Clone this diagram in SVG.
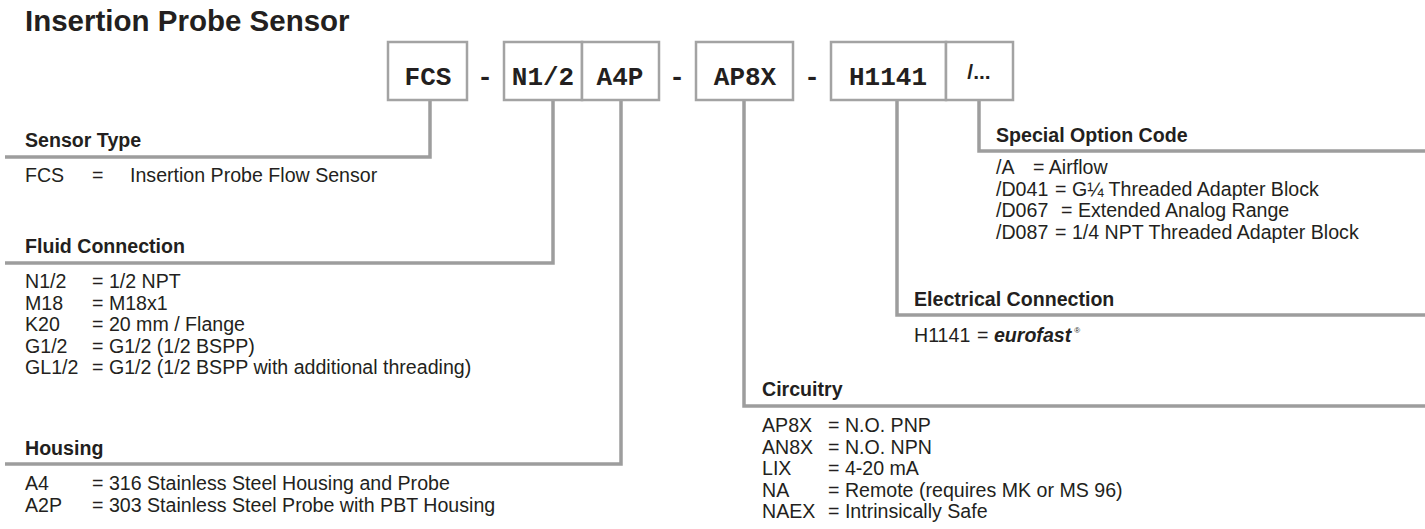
<svg xmlns="http://www.w3.org/2000/svg" width="1425" height="529" viewBox="0 0 1425 529">
<style>
text{fill:#231f20;font-family:"Liberation Sans",Arial,sans-serif}
.title{font-size:29.5px;font-weight:bold}
.box{fill:#fff;stroke:#a3a3a3;stroke-width:2.5}
.code{font-family:"Liberation Mono","Courier New",monospace;font-weight:bold;font-size:26px;text-anchor:middle}
.opt{font-weight:bold;font-size:21px;text-anchor:middle}
.conn{fill:none;stroke:#9d9d9d;stroke-width:3.5}
.h{font-size:19.6px;font-weight:bold}
.t{font-size:19.6px}
.bi{font-weight:bold;font-style:italic}
.reg{font-size:8px}
</style>
<rect width="1425" height="529" fill="#fff"/>
<text class="title" x="25" y="31">Insertion Probe Sensor</text>

<g id="connectors">
<path class="conn" d="M430 100 V157 H5"/>
<path class="conn" d="M553 100 V263 H5"/>
<path class="conn" d="M621 100 V464 H5"/>
<path class="conn" d="M744 100 V406 H1425"/>
<path class="conn" d="M897 100 V315 H1425"/>
<path class="conn" d="M979 100 V151 H1425"/>
</g>

<g id="code-fcs"><rect class="box" x="388" y="42" width="79" height="58"/><text class="code" x="428" y="85">FCS</text></g>
<text class="code" x="485" y="85">-</text>
<g id="code-n12"><rect class="box" x="504" y="42" width="78" height="58"/><text class="code" x="543" y="85">N1/2</text></g>
<g id="code-a4p"><rect class="box" x="582" y="42" width="77" height="58"/><text class="code" x="620" y="85">A4P</text></g>
<text class="code" x="677" y="85">-</text>
<g id="code-ap8x"><rect class="box" x="696" y="42" width="97" height="58"/><text class="code" x="745" y="85">AP8X</text></g>
<text class="code" x="812" y="85">-</text>
<g id="code-h1141"><rect class="box" x="831" y="42" width="115" height="58"/><text class="code" x="888" y="85">H1141</text></g>
<g id="code-opt"><rect class="box" x="946" y="42" width="67" height="58"/><text class="opt" x="979" y="79">/...</text></g>

<g id="sensor-type">
<text class="h" x="25" y="147">Sensor Type</text>
<text class="t" y="182"><tspan x="25">FCS</tspan><tspan x="92">=</tspan><tspan x="130">Insertion Probe Flow Sensor</tspan></text>
</g>

<g id="fluid-connection">
<text class="h" x="25" y="253">Fluid Connection</text>
<text class="t" y="288"><tspan x="25">N1/2</tspan><tspan x="92">= 1/2 NPT</tspan></text>
<text class="t" y="309.5"><tspan x="25">M18</tspan><tspan x="92">= M18x1</tspan></text>
<text class="t" y="331"><tspan x="25">K20</tspan><tspan x="92">= 20 mm / Flange</tspan></text>
<text class="t" y="352.5"><tspan x="25">G1/2</tspan><tspan x="92">= G1/2 (1/2 BSPP)</tspan></text>
<text class="t" y="374"><tspan x="25">GL1/2</tspan><tspan x="92">= G1/2 (1/2 BSPP with additional threading)</tspan></text>
</g>

<g id="housing">
<text class="h" x="25" y="455">Housing</text>
<text class="t" y="490"><tspan x="25">A4</tspan><tspan x="92">= 316 Stainless Steel Housing and Probe</tspan></text>
<text class="t" y="512"><tspan x="25">A2P</tspan><tspan x="92">= 303 Stainless Steel Probe with PBT Housing</tspan></text>
</g>

<g id="special-option">
<text class="h" x="996" y="142">Special Option Code</text>
<text class="t" y="174"><tspan x="996">/A</tspan><tspan x="1033">= Airflow</tspan></text>
<text class="t" y="195.5"><tspan x="996">/D041</tspan><tspan x="1055">= G¼ Threaded Adapter Block</tspan></text>
<text class="t" y="217"><tspan x="996">/D067</tspan><tspan x="1061">= Extended Analog Range</tspan></text>
<text class="t" y="238.5"><tspan x="996">/D087</tspan><tspan x="1055">= 1/4 NPT Threaded Adapter Block</tspan></text>
</g>

<g id="electrical-connection">
<text class="h" x="914" y="306">Electrical Connection</text>
<text class="t" y="342"><tspan x="914">H1141</tspan><tspan x="977">= </tspan><tspan class="bi">eurofast</tspan><tspan class="reg" dx="3" dy="-9">®</tspan></text>
</g>

<g id="circuitry">
<text class="h" x="762" y="396">Circuitry</text>
<text class="t" y="432"><tspan x="762">AP8X</tspan><tspan x="828">= N.O. PNP</tspan></text>
<text class="t" y="453.5"><tspan x="762">AN8X</tspan><tspan x="828">= N.O. NPN</tspan></text>
<text class="t" y="475"><tspan x="762">LIX</tspan><tspan x="828">= 4-20 mA</tspan></text>
<text class="t" y="496.5"><tspan x="762">NA</tspan><tspan x="828">= Remote (requires MK or MS 96)</tspan></text>
<text class="t" y="518"><tspan x="762">NAEX</tspan><tspan x="828">= Intrinsically Safe</tspan></text>
</g>
</svg>
